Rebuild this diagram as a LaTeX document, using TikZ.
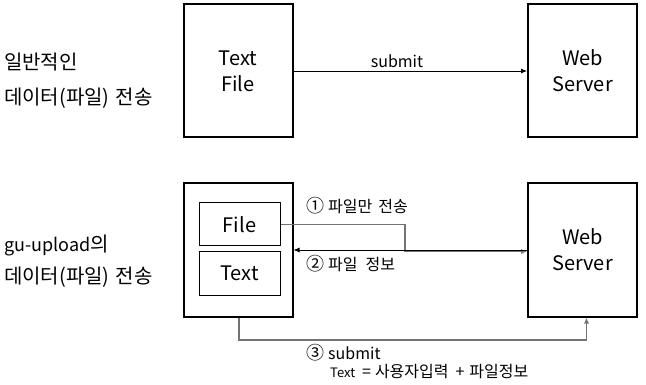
\documentclass[tikz,border=0pt]{standalone}
\usepackage{fontspec}
\setmainfont{Noto Sans CJK KR}
\usetikzlibrary{arrows.meta}
\tikzset{
  bigbox/.style={draw, line width=2pt, minimum width=109pt, minimum height=133pt, inner sep=0pt, align=center, font=\fontsize{20}{26}\selectfont},
  smallbox/.style={draw, line width=1pt, minimum width=81pt, minimum height=43pt, inner sep=0pt, font=\fontsize{20}{24}\selectfont},
  lbl/.style={anchor=west, inner sep=0pt, font=\fontsize{20}{22}\selectfont},
  clbl/.style={anchor=west, inner sep=0pt, font=\fontsize{16}{18}\selectfont},
  tiny/.style={anchor=west, inner sep=0pt, font=\fontsize{16}{18}\selectfont},
  arr/.style={-{Latex[length=6pt,width=5pt]}, line width=0.8pt},
  garr/.style={-{Latex[length=6pt,width=5pt]}, line width=1.1pt, draw=black!55},
}
\begin{document}
\begin{tikzpicture}[x=1pt,y=-1pt]
\useasboundingbox (0,0) rectangle (646,385);
% top row
\node[bigbox] (tf) at (238,71) {Text\\File};
\node[bigbox] (ws1) at (582.5,71) {Web\\Server};
\node[lbl] (l1) at (4,62) {일반적인};
\node[lbl] (l2) at (4,98) {데이터(파일)\hspace{6pt}전송};
\draw[arr] (tf.east) -- (ws1.west);
\node[font=\fontsize{16}{18}\selectfont, inner sep=0pt] (sl) at (397,61) {submit};
% bottom row
\node[bigbox] (outer) at (238,250) {};
\node[smallbox] (file) at (239.5,224.5) {File};
\node[smallbox] (text) at (239.5,273.5) {Text};
\node[bigbox] (ws2) at (582.5,250) {Web\\Server};
\node[lbl] (l3) at (4,245) {{\fontsize{18}{20}\selectfont gu-upload}의};
\node[lbl] (l4) at (4,277) {데이터(파일)\hspace{6pt}전송};
\coordinate (c1) at (405,251.5);
\coordinate (c3) at (239,340);
\draw[garr] (file.east) -| (c1) -- (c1 -| ws2.west);
\draw[arr] (ws2.west) -- (outer.east);
\draw[garr] (outer.south -| c3) -- (c3) -| ([xshift=4pt]ws2.south);
\node[clbl] (a1) at (306,206) {{\fontsize{18}{18}\selectfont ①}\hspace{4pt}파일만\hspace{6pt}전송};
\node[clbl] (a2) at (306,264) {{\fontsize{18}{18}\selectfont ②}\hspace{4pt}파일\hspace{8pt}정보};
\node[clbl] (a3) at (306,353) {{\fontsize{18}{18}\selectfont ③}\hspace{4pt}submit};
\node[tiny] (a4) at (330,372) {{\fontsize{13}{14}\selectfont Text}\hspace{7pt}=\hspace{4pt}사용자입력\hspace{7pt}+\hspace{5pt}파일정보};
\end{tikzpicture}
\end{document}
